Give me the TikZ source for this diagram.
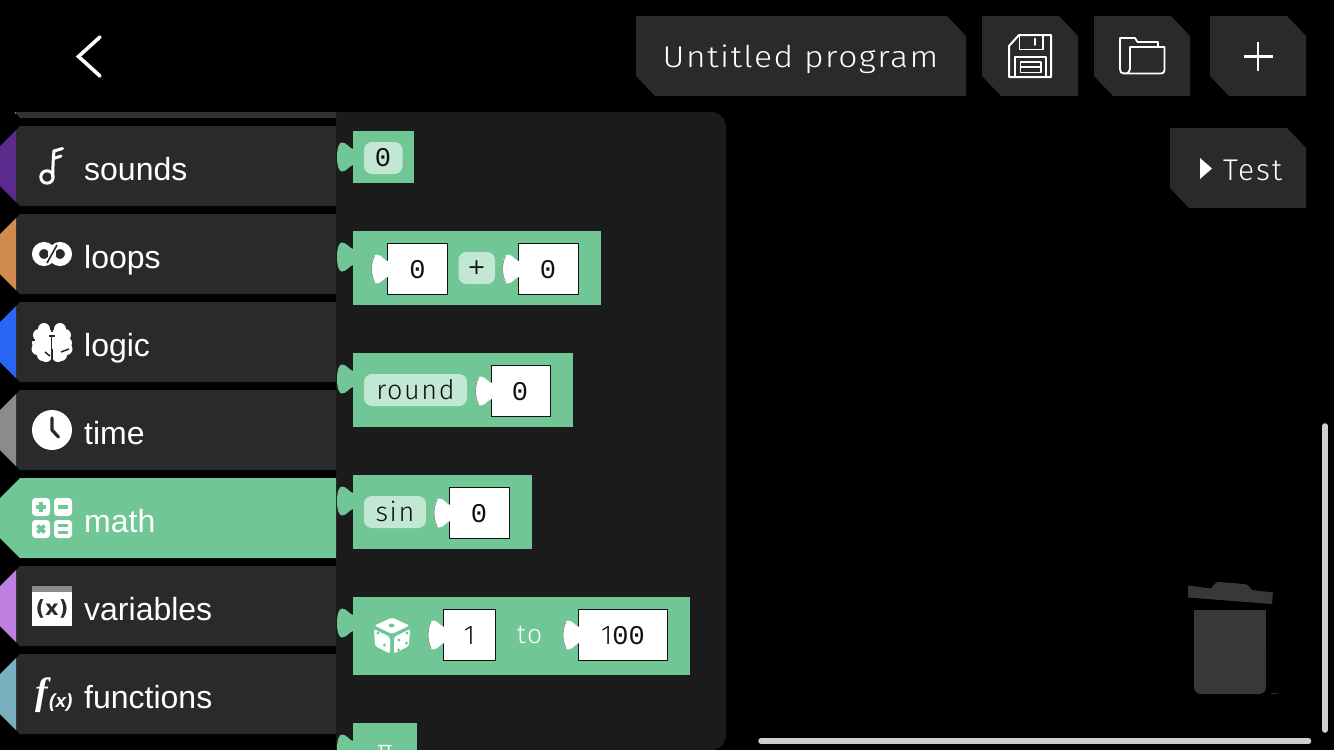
\documentclass[tikz,border=0pt]{standalone}
\usepackage{fontspec}
\setmainfont{Liberation Sans}
\newfontfamily\uif[UprightFont=* Light,LetterSpace=6]{Fira Sans}
\newfontfamily\titlef[UprightFont=* Light,LetterSpace=5,FakeStretch=1.12]{Fira Sans}
\newfontfamily\monof{Liberation Mono}
\newfontfamily\serf{Liberation Serif}
\newfontfamily\djf{DejaVu Sans}
\definecolor{gb}{HTML}{70C694}
\definecolor{pl}{HTML}{C2E8D4}
\definecolor{btn}{HTML}{2A2A2A}
\definecolor{strip}{HTML}{333333}
\definecolor{pan}{HTML}{1B1B1B}
\definecolor{trash}{HTML}{383838}
\definecolor{bar}{HTML}{CFCFCF}
\definecolor{ink}{HTML}{111111}
\definecolor{csound}{HTML}{5A2A8C}
\definecolor{cloop}{HTML}{D08A4C}
\definecolor{clogic}{HTML}{2A66F5}
\definecolor{ctime}{HTML}{8A8C8C}
\definecolor{cvar}{HTML}{BF7FE0}
\definecolor{cfun}{HTML}{78B0C0}
\definecolor{cpink}{HTML}{E0407A}
\tikzset{
  tablabel/.style={anchor=base west,inner sep=0pt,text=white,font=\fontsize{32}{36}\selectfont},
  uitext/.style={inner sep=0pt,text=white,font=\uif\fontsize{30}{34}\selectfont},
  pilltext/.style={inner sep=0pt,text=ink,font=\uif\fontsize{27}{30}\selectfont},
  digit/.style={inner sep=0pt,text=ink,font=\monof\fontsize{27}{30}\selectfont},
  iconline/.style={draw=white,line width=2pt,line join=round,line cap=round},
}
% tab row: top y, colour, name, label
\newcommand{\tabrow}[4]{%
  \fill[btn] (20,#1) -- (336,#1) -- (336,#1+80) -- (20,#1+80) -- (16,#1+76) -- (16,#1+4) -- cycle;
  \fill[#2] (16,#1+4) -- (16,#1+76) -- (0,#1+60) -- (0,#1+20) -- cycle;
  \node[tablabel] (#3) at (84,#1+54) {#4};
}
% puzzle lug pointing left, at block edge x, centre y
\newcommand{\lug}[3]{%
  \fill[#3,shift={(#1,#2)}] (0.2,-8) .. controls (-3,-8) and (-6,-14.5) .. (-11,-14.5)
    .. controls (-14,-14.5) and (-16,-9) .. (-16,0)
    .. controls (-16,9) and (-14,14.5) .. (-11,14.5)
    .. controls (-6,14.5) and (-3,8) .. (0.2,8) -- cycle;
}
% block x1 y1 x2 y2
\newcommand{\blockbody}[4]{%
  \fill[gb] (#1,#2) rectangle (#3,#4);
  \lug{#1}{#2+26}{gb}
}
% input x1 x2 y1 (height 51.5)
\newcommand{\inputbox}[3]{%
  \draw[fill=white,draw=ink,line width=.8pt] (#1,#3) rectangle (#2,#3+51.5);
  \lug{#1+.6}{#3+26}{white}
  \draw[gray,line width=.6pt,shift={(#1+.6,#3+26)}] (-13,-13) .. controls (-15,-9) and (-16,-5) .. (-16,0) .. controls (-16,5) and (-15,9) .. (-13,13);
}
\newcommand{\pillbox}[4]{\fill[pl,rounded corners=8pt] (#1,#2) rectangle (#3,#4);}
\begin{document}
\begin{tikzpicture}[x=1pt,y=-1pt]
\useasboundingbox (0,0) rectangle (1334,750);
\fill[black] (0,0) rectangle (1334,750);
\begin{scope}
\clip (0,0) rectangle (1334,750);
% panel
\fill[pan] (336,112) [rounded corners=15pt] -- (726,112) -- (726,750) [sharp corners] -- (336,750) -- cycle;
% partial row on top
\fill[strip] (15,112) -- (336,112) -- (336,118) -- (20,118) -- cycle;
\fill[cpink] (14.5,112) rectangle (16,114);
% tabs
\tabrow{126}{csound}{sounds}{sounds}
\tabrow{214}{cloop}{loops}{loops}
\tabrow{302}{clogic}{logic}{logic}
\tabrow{390}{ctime}{time}{time}
\fill[gb] (20,478) -- (336,478) -- (336,558) -- (20,558) -- (0,538) -- (0,498) -- cycle;
\node[tablabel] (math) at (84,532) {math};
\tabrow{566}{cvar}{variables}{variables}
\tabrow{654}{cfun}{functions}{functions}
% sounds icon
\draw[white,line width=3pt] (47,177) circle[radius=6.2];
\draw[white,line width=3pt,line cap=round] (52.6,177) .. controls (53,168) and (53,160) .. (54,151) -- (62.5,148.5);
\draw[white,line width=3pt,line cap=round] (53.5,158.5) -- (61,156);
% loops icon
\draw[white,line width=7pt] (44,254) circle[radius=8.5];
\draw[white,line width=7pt] (60,254) circle[radius=8.5];
\draw[btn,line width=1.6pt] (47,263) -- (57,245);
% logic icon
\foreach \a/\b in {44/329,39/335,38/343,37.5/349,43/355,46/356,60/329,65/335,66/343,66.5/349,61/355,58/356}{
  \fill[white] (\a,\b) circle[radius=6];
}
\fill[white] (42,330) rectangle (62,356);
\draw[btn,line width=2pt] (51.7,321) -- (51.7,332);
\draw[btn,line width=2pt] (51.7,349) -- (51.7,363);
\draw[btn,line width=1.4pt] (49,336) -- (54.5,336) (51.7,336) -- (51.7,349);
\draw[btn,line width=1.5pt] (45,352) -- (50,356);
\draw[btn,line width=1.5pt] (69,349) -- (61,352);
\draw[btn,line width=1.4pt] (32,340) -- (35,340);
% time icon
\fill[white] (52,430) circle[radius=20];
\draw[btn,line width=3.2pt,line cap=round,line join=round] (52,418) -- (52,430) -- (58.5,437);
% math icon
\fill[white,rounded corners=3.5pt] (32,498) rectangle (50,516);
\fill[white,rounded corners=3.5pt] (54,498) rectangle (72,516);
\fill[white,rounded corners=3.5pt] (32,520) rectangle (50,538);
\fill[white,rounded corners=3.5pt] (54,520) rectangle (72,538);
\draw[gb,line width=3.6pt] (36,507) -- (46,507) (41,502) -- (41,512);
\draw[gb,line width=3.6pt] (58,507) -- (68,507);
\draw[gb,line width=3.6pt] (37.5,525.5) -- (44.5,532.5) (44.5,525.5) -- (37.5,532.5);
\draw[gb,line width=3pt] (58,525.5) -- (68,525.5) (58,532.5) -- (68,532.5);
% variables icon
\fill[white] (32,586) rectangle (72,626);
\fill[ctime] (32,586) rectangle (72,591.5);
\node[inner sep=0pt,text=btn,font=\djf\bfseries\fontsize{21}{24}\selectfont] (varx) at (52,608.5) {(x)};
% functions icon
\node[anchor=base west,inner sep=0pt,text=white,font=\serf\bfseries\itshape\fontsize{38}{40}\selectfont] (funf) at (35.5,704) {f};
\node[anchor=base west,inner sep=0pt,text=white,font=\bfseries\itshape\fontsize{19}{20}\selectfont] (funx) at (49,707) {(x)};
% blocks
\blockbody{353}{131}{413.5}{183}
\pillbox{364}{142}{402.5}{174}
\node[digit] (b1) at (383,158) {0};

\blockbody{353}{231}{600.5}{305}
\inputbox{387}{447.5}{243}
\node[digit] (b2a) at (417.5,269.5) {0};
\pillbox{458.5}{252}{495}{284}
\node[pilltext,font=\djf\fontsize{22}{24}\selectfont] (b2op) at (476.5,267.5) {+};
\inputbox{518}{578.5}{243}
\node[digit] (b2b) at (548,269.5) {0};

\blockbody{353}{353}{573}{427}
\pillbox{364}{374}{467}{406}
\node[pilltext] (b3) at (415.5,389.5) {round};
\inputbox{491}{550.5}{365}
\node[digit] (b3a) at (520,391.5) {0};

\blockbody{353}{475}{531.5}{549}
\pillbox{364}{496}{426}{528}
\node[pilltext] (b4) at (395,511.5) {sin};
\inputbox{449.5}{509.5}{487}
\node[digit] (b4a) at (479,513.5) {0};

\blockbody{353}{597}{690}{675}
% dice
\fill[white,rounded corners=2pt] (392,617.5) -- (409.5,625.5) -- (392,634) -- (374.5,625.5) -- cycle;
\fill[white,rounded corners=2pt] (374,629) -- (390,637) -- (390,653.5) -- (375,646) -- cycle;
\fill[white,rounded corners=2pt] (394,637) -- (410,629) -- (409,646) -- (394,653.5) -- cycle;
\fill[gb] (391.5,625.5) ellipse[x radius=3,y radius=2];
\foreach \a/\b in {378/633,384.5/645,399/640,407/633,398.5/650,406.5/643}{\fill[gb] (\a,\b) circle[radius=1.6];}
\inputbox{443.5}{495.5}{609}
\node[pilltext] (b5a) at (469.5,635.5) {1};
\node[uitext,font=\uif\fontsize{26.5}{28}\selectfont] (b5to) at (529.5,634.5) {to};
\inputbox{578.5}{667.5}{609}
\node[inner sep=0pt,text=ink] (b5b) at (623,635.5) {\uif\fontsize{27}{30}\selectfont 1\monof\fontsize{27}{30}\selectfont 00};

\blockbody{353}{723}{417}{760}
\node[anchor=base,inner sep=0pt,text=white,font=\uif\fontsize{27}{30}\selectfont] (b6) at (385,759) {π};

% top buttons
\fill[btn] (636,16) -- (947,16) -- (966,36) -- (966,96) -- (655,96) -- (636,76) -- cycle;
\node[anchor=base,inner sep=0pt,text=white,font=\titlef\fontsize{30}{34}\selectfont] (title) at (800.5,67) {Untitled program};
\fill[btn] (982,16) -- (1059,16) -- (1078,36) -- (1078,96) -- (1001,96) -- (982,76) -- cycle;
\fill[btn] (1094,16) -- (1171,16) -- (1190,36) -- (1190,96) -- (1113,96) -- (1094,76) -- cycle;
\fill[btn] (1210,16) -- (1287,16) -- (1306,36) -- (1306,96) -- (1229,96) -- (1210,76) -- cycle;
\fill[btn] (1170,128) -- (1287,128) -- (1306,148) -- (1306,208) -- (1189,208) -- (1170,188) -- cycle;
% save icon
\draw[iconline] (1019,35) -- (1051,35) -- (1051,77) -- (1009,77) -- (1009,46) -- cycle;
\draw[iconline,line width=1.6pt] (1019.5,35) -- (1019.5,49.5) -- (1043,49.5) -- (1043,35);
\draw[iconline,line width=1.6pt] (1035,38.5) -- (1035,45);
\draw[iconline,line width=1.6pt] (1015,77) -- (1015,57) -- (1046,57) -- (1046,77);
\draw[iconline,line width=1.6pt] (1020.5,62) rectangle (1041,72.5);
\draw[iconline,line width=1.4pt] (1020.5,67) -- (1041,67);
% folder icon
\draw[iconline,line width=1.8pt] (1124,73.5) .. controls (1121,73.5) and (1120,72) .. (1120,69) -- (1120,38) -- (1135,38) -- (1137.5,42) -- (1158,42) -- (1158,47);
\draw[iconline,line width=1.8pt] (1130,47) -- (1164.5,47) -- (1164.5,70) .. controls (1164.5,72.5) and (1163,73.5) .. (1161,73.5) -- (1124,73.5) .. controls (1128,73.5) and (1130,72) .. (1130,69) -- cycle;
% plus
\draw[white,line width=2.6pt] (1243.5,56.5) -- (1272.5,56.5) (1258,42) -- (1258,70.5);
% test
\fill[white] (1200,158) -- (1212,168.5) -- (1200,179) -- cycle;
\node[uitext,anchor=base west] (test) at (1223,180.5) {Test};
% back chevron
\draw[white,line width=3.6pt,line cap=round,line join=miter] (100,37) -- (78.5,56.5) -- (100,76);
% trash
\fill[trash] (1188,585.5) -- (1211,588.5) .. controls (1214,585) and (1215,582) .. (1219,582) -- (1244,584) .. controls (1248,584) and (1250,588) .. (1252,590) -- (1273,592.5) -- (1272,604) -- (1188,597.5) -- cycle;
\fill[trash,rounded corners=7pt] (1194,640) -- (1194,694) -- (1266,694) -- (1266,640) -- cycle;
\fill[trash] (1194,610) rectangle (1266,650);
\draw[btn,line width=.6pt] (1271,693.5) -- (1278,693.5);
% scrollbars
\draw[bar,line width=5.6pt,line cap=round] (761,741) -- (1308.5,741);
\draw[bar,line width=5.6pt,line cap=round] (1325,426) -- (1325,730);
\end{scope}
\end{tikzpicture}
\end{document}
